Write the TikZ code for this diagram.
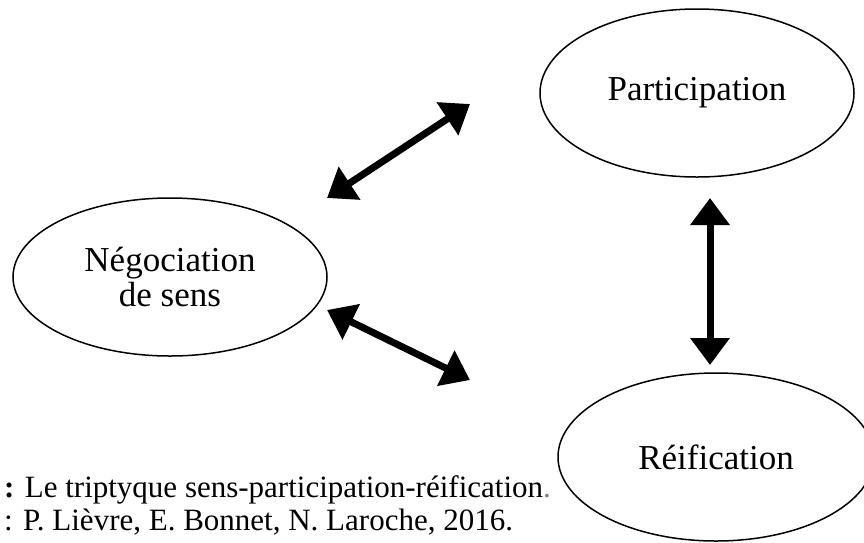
\documentclass[tikz,border=0pt]{standalone}
\usepackage{fontspec}
\setmainfont{Liberation Serif}
\usetikzlibrary{shapes.geometric,arrows.meta}
\tikzset{
  bubble/.style={ellipse, draw, line width=1.5pt, inner sep=0pt, font=\fontsize{35}{35}\selectfont},
  dblarrow/.style={line width=7pt, {Triangle[length=27pt,width=38pt]}-{Triangle[length=27pt,width=38pt]}},
  caption/.style={anchor=west, inner sep=0pt, font=\fontsize{31}{34}\selectfont}
}
\begin{document}
\begin{tikzpicture}[x=1pt,y=-1pt]
  \useasboundingbox (0,0) rectangle (864,542);
  % the three poles
  \node[bubble, minimum width=314pt, minimum height=168pt] (part) at (697,93) {Participation};
  \node[bubble, minimum width=314pt, minimum height=158pt, align=center] (neg) at (170,277) {Négociation\\de sens};
  \node[bubble, minimum width=316pt, minimum height=168pt] (reif) at (716,457) {Réification};
  % arrow ends
  \coordinate (a1) at (327,198);
  \coordinate (a2) at (470,104);
  \coordinate (b1) at (327,310);
  \coordinate (b2) at (470,380);
  \coordinate (c1) at (710,198);
  \coordinate (c2) at (710,365);
  \draw[dblarrow] (a1) -- (a2);
  \draw[dblarrow] (b1) -- (b2);
  \draw[dblarrow] (c1) -- (c2);
  % caption
  \node[caption] (cap1) at (4,490) {\textbf{:} Le triptyque sens-participation-réification\textcolor{gray}{.}};
  \node[caption] (cap2) at (4,522) {: P. Lièvre, E. Bonnet, N. Laroche, 2016.};
\end{tikzpicture}
\end{document}
